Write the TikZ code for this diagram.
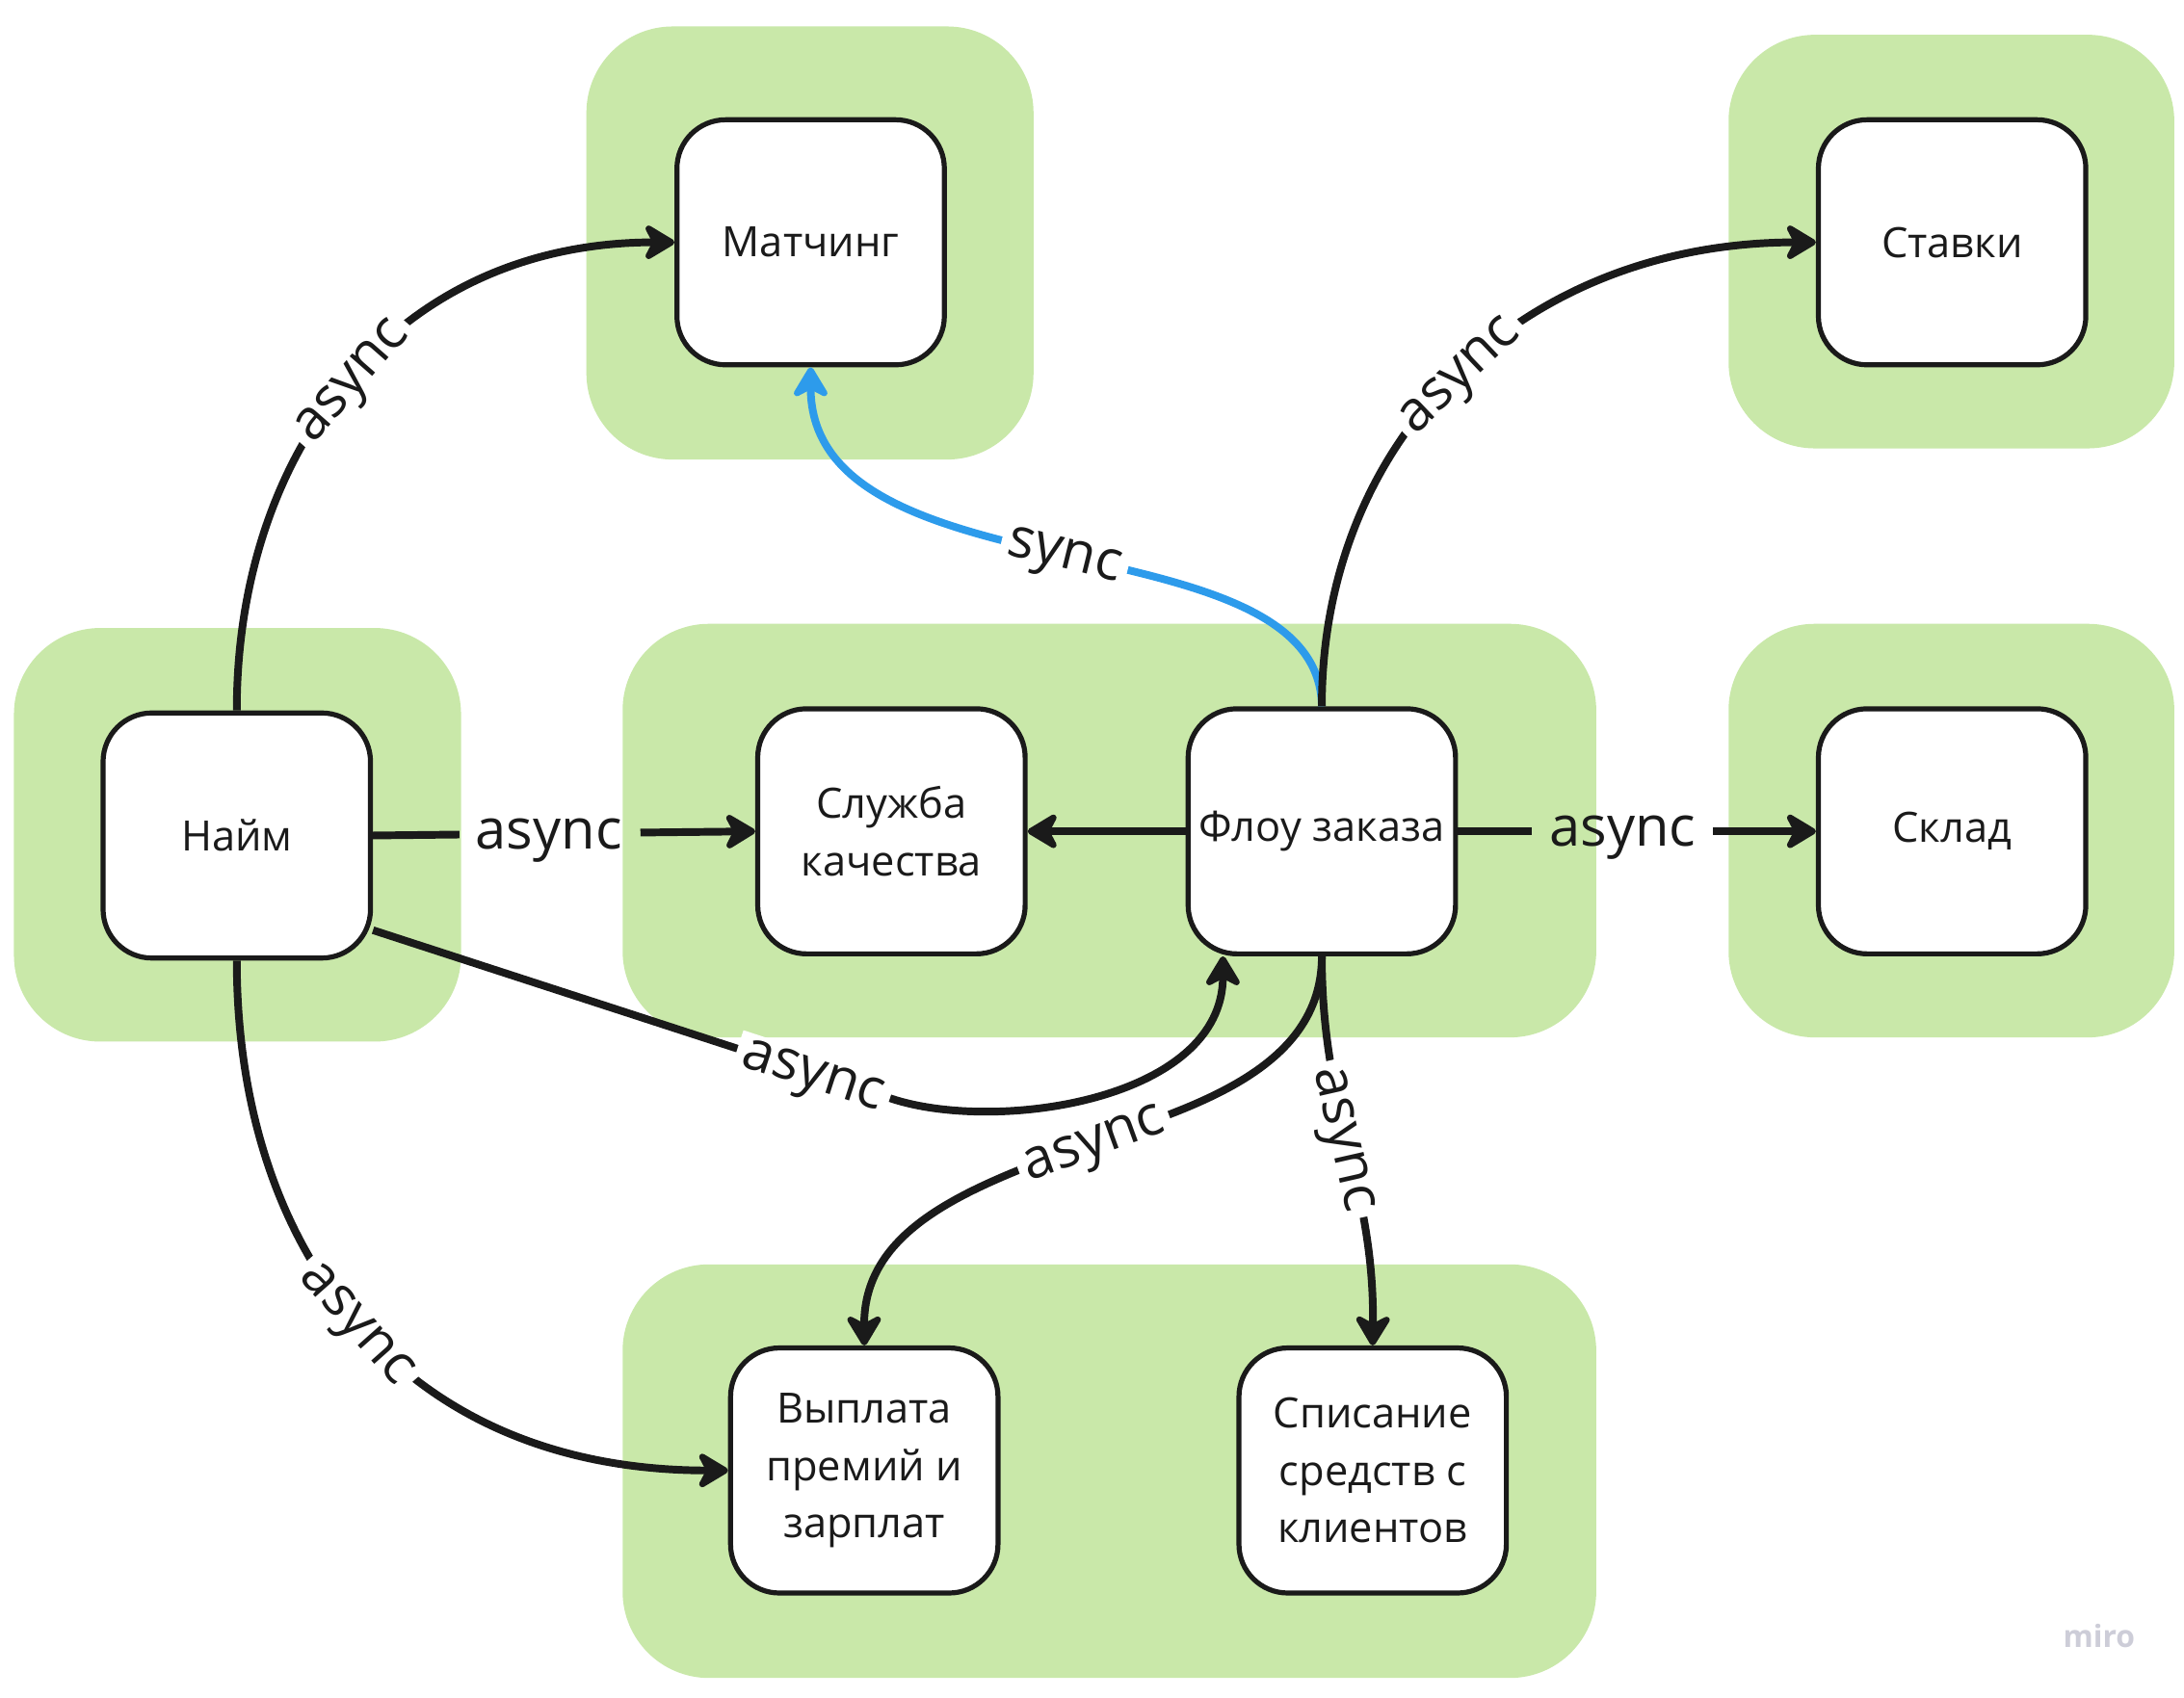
\documentclass[tikz,border=0pt]{standalone}
\usepackage{fontspec}
\setmainfont{Open Sans}
\usetikzlibrary{arrows.meta,calc}
\definecolor{grp}{RGB}{201,232,169}
\definecolor{ink}{RGB}{26,26,26}
\definecolor{syncblue}{RGB}{45,155,235}
\definecolor{mirogray}{RGB}{205,205,216}
\begin{document}
\begin{tikzpicture}[x=1pt,y=-1pt,
  grpbg/.style={fill=grp, rounded corners=62pt},
  svc/.style={draw=ink, line width=3.6pt, fill=white, rounded corners=35pt,
    minimum width=192pt, minimum height=176pt, inner sep=1pt, align=center,
    font=\fontsize{30}{41}\selectfont, text=ink},
  conn/.style={draw=ink, line width=5.5pt,
    -{Stealth[length=26pt,width=31pt,inset=8pt,round]}},
  lbl/.style={fill=white, inner xsep=5pt, inner ysep=3pt, text depth=0pt,
    font=\fontsize{40}{48}\selectfont, text=ink},
  lblclear/.style={inner sep=0pt, text depth=0pt,
    font=\fontsize{40}{48}\selectfont, text=ink}]
\useasboundingbox (0,0) rectangle (1568,1219.4);
\fill[white] (0,0) rectangle (1568,1219.4);
% group backgrounds
\fill[grpbg] (421,19) rectangle (742,330);
\fill[grpbg] (1241,25) rectangle (1561,322);
\fill[grpbg] (10,451) rectangle (331,748);
\fill[grpbg] (447,448) rectangle (1146,745);
\fill[grpbg] (1241,448) rectangle (1561,745);
\fill[grpbg] (447,908) rectangle (1146,1205);
% services
\node[svc] (match) at (582,174) {Матчинг};
\node[svc] (stavki) at (1401.5,174) {Ставки};
\node[svc] (naim) at (170,600) {Найм};
\node[svc] (sluzhba) at (640,597) {Служба\\качества};
\node[svc] (flow) at (949,597) {Флоу заказа};
\node[svc] (sklad) at (1401.5,597) {Склад};
\node[svc] (vyplata) at (620.5,1056) {Выплата\\премий и\\зарплат};
\node[svc] (spisanie) at (985.5,1056) {Списание\\средств с\\клиентов};
% sync edge (under the black ones)
\draw[conn, draw=syncblue] (flow.north) .. controls (947,370) and (582,432) ..
  node[lbl, sloped, pos=0.5] {sync} (match.south);
% async edges
\draw[conn] (naim.north) .. controls (170,325) and (282,174) ..
  node[lbl, sloped, pos=0.5] {async} (match.west);
\draw[conn] (flow.north) .. controls (949,315) and (1092,174) ..
  node[lbl, sloped, pos=0.5] {async} (stavki.west);
\draw[conn, dash pattern=on 62pt off 130pt on 400pt] (naim.east) --
  node[lblclear, pos=0.46] {async} (sluzhba.west);
\draw[conn] (flow.west) -- (sluzhba.east);
\draw[conn, dash pattern=on 53pt off 130pt on 400pt] (flow.east) --
  node[lblclear, pos=0.46] {async} (sklad.west);
\draw[conn] ($(naim.east)+(0,68)$) -- node[lbl, sloped, pos=0.85] {async} (640,789)
  .. controls (716,814) and (878,790) .. ($(flow.south)+(-71,0)$);
\draw[conn] (flow.south) .. controls (949,770) and (851,796) ..
  node[lbl, sloped, pos=1] {async} (785,820)
  .. controls (700,851) and (620,880) .. (vyplata.north);
\draw[conn] (flow.south) .. controls (949,800) and (987,850) ..
  node[lbl, sloped, pos=0.47] {async} (spisanie.north);
\draw[conn] (naim.south) .. controls (170,895) and (285,1056) ..
  node[lbl, sloped, pos=0.5] {async} (vyplata.west);
% watermark
\node[text=mirogray, font=\bfseries\fontsize{22}{22}\selectfont] (miro) at (1507,1175) {miro};
\end{tikzpicture}
\end{document}
